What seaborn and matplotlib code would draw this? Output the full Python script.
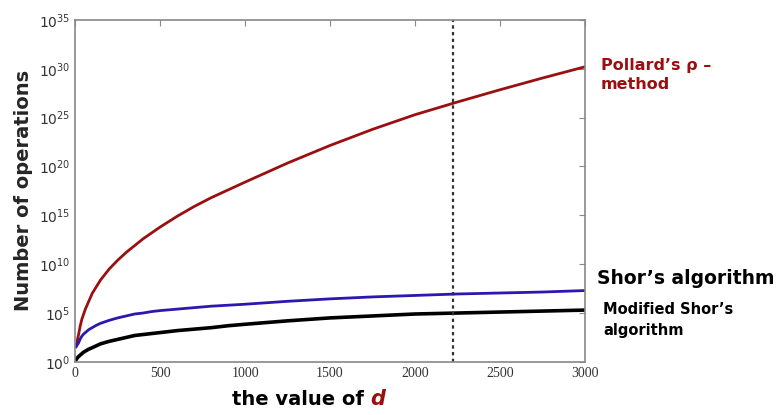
import matplotlib
matplotlib.use("Agg")
import matplotlib.pyplot as plt
import pandas as pd
import seaborn as sns

# values (log10 of number of operations)
d_values = [5, 10, 15, 20, 30, 40, 50, 60, 80, 100, 125, 150, 200, 250, 300,
            350, 400, 450, 500, 600, 700, 800, 900, 1000, 1250, 1500, 1750,
            2000, 2250, 2500, 2750, 3000]
pollard_log = [1.6, 2.0, 2.4, 2.8, 3.7, 4.4, 4.9, 5.4, 6.2, 7.0, 7.7, 8.4, 9.5,
               10.4, 11.2, 11.9, 12.6, 13.2, 13.8, 14.9, 15.9, 16.8, 17.6, 18.4,
               20.35, 22.15, 23.8, 25.3, 26.6, 27.85, 29.05, 30.2]
shor_log = [1.5, 1.7, 1.8, 1.95, 2.35, 2.65, 2.85, 3.0, 3.3, 3.5, 3.75, 3.95,
            4.25, 4.5, 4.7, 4.9, 5.0, 5.15, 5.25, 5.4, 5.55, 5.7, 5.8, 5.9,
            6.2, 6.45, 6.65, 6.8, 6.95, 7.05, 7.15, 7.3]
mod_shor_log = [0.2, 0.35, 0.45, 0.55, 0.7, 0.85, 1.0, 1.1, 1.3, 1.45, 1.65,
                1.85, 2.1, 2.3, 2.5, 2.7, 2.8, 2.9, 3.0, 3.2, 3.35, 3.5, 3.7,
                3.85, 4.2, 4.5, 4.7, 4.9, 5.0, 5.1, 5.2, 5.3]
d_marker = 2225
y_exponents = [0, 5, 10, 15, 20, 25, 30, 35]
x_ticks = [0, 500, 1000, 1500, 2000, 2500, 3000]

series = {"Pollard": pollard_log, "Shor": shor_log, "Modified": mod_shor_log}
frames = []
for name, vals in series.items():
    frames.append(pd.DataFrame({"d": d_values, "ops": [10.0 ** v for v in vals], "algo": name}))
df = pd.concat(frames, ignore_index=True)

sns.set_style("white")
red = "#9a0f0f"
palette = {"Pollard": red, "Shor": "#2a18b0", "Modified": "#000000"}

fig = plt.figure(figsize=(7.83, 4.15), dpi=100)
ax = fig.add_axes([0.096, 0.128, 0.651, 0.824])

sns.lineplot(data=df[df.algo != "Modified"], x="d", y="ops", hue="algo",
             palette=palette, linewidth=2, legend=False, ax=ax)
sns.lineplot(data=df[df.algo == "Modified"], x="d", y="ops", color="black",
             linewidth=2.6, legend=False, ax=ax)
ax.axvline(d_marker, color="#333333", linestyle=(0, (1.5, 1.5)), linewidth=1.6)

ax.set_yscale("log")
ax.set_xlim(0, 3000)
ax.set_ylim(1, 1e35)
ax.set_xticks(x_ticks)
ax.set_xticklabels([str(t) for t in x_ticks])
ax.set_yticks([10.0 ** e for e in y_exponents])
ax.set_yticklabels([r"$10^{%d}$" % e for e in y_exponents])
ax.minorticks_off()
ax.tick_params(direction="in", top=True, right=True, length=4, width=0.8,
               color="#888888", labelcolor="#333333", labelsize=10)
for lab in ax.get_xticklabels() + ax.get_yticklabels():
    lab.set_family("Liberation Serif")
for sp in ax.spines.values():
    sp.set_color("#888888")
    sp.set_linewidth(1.2)
ax.set_xlabel("")
ax.set_ylabel("Number of operations", fontsize=14, fontweight="bold", labelpad=4)

t1 = fig.text(0.296, 0.025, "the value of ", fontsize=14, fontweight="bold", color="black")
ax.annotate("d", xy=(1, 0), xycoords=t1, va="bottom", fontsize=15, fontweight="bold",
            style="italic", color=red)

fig.text(0.767, 0.82, "Pollard\u2019s \u03c1 \u2013\nmethod", fontsize=11.5,
         fontweight="bold", color=red, va="center", linespacing=1.35)
fig.text(0.762, 0.328, "Shor\u2019s algorithm", fontsize=13.5, fontweight="bold",
         color="black", va="center")
fig.text(0.770, 0.228, "Modified Shor\u2019s\nalgorithm", fontsize=10.5,
         fontweight="bold", color="black", va="center", linespacing=1.5)

fig.savefig("out.png", dpi=100)
